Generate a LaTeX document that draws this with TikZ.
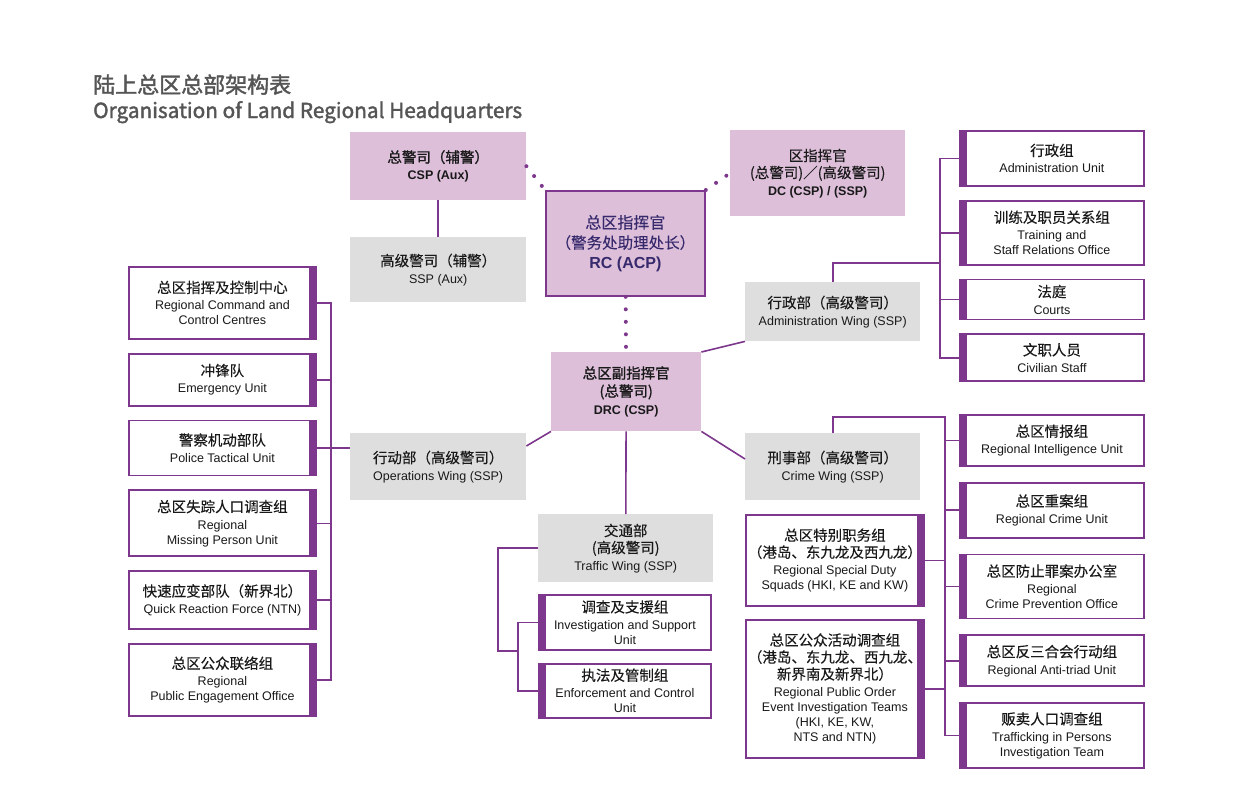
\documentclass[tikz,border=0pt]{standalone}
\usepackage{fontspec}
\setmainfont{Liberation Sans}
\newfontfamily\cjk[FakeBold=0.15]{Noto Sans CJK SC}
\newfontfamily\cjkm[FakeBold=1.2]{Noto Sans CJK SC}
\newfontfamily\cjktitle[FakeBold=1.8]{Noto Sans CJK SC}
\usetikzlibrary{positioning,calc}
\definecolor{hqpurple}{RGB}{125,55,140}
\definecolor{hqpink}{RGB}{221,191,218}
\definecolor{hqgrey}{RGB}{222,222,222}
\definecolor{hqink}{RGB}{55,42,108}
\definecolor{hqtitle}{RGB}{85,85,85}
\newcommand{\zh}[1]{{\cjk\fontsize{14.5}{17}\selectfont #1}}
\newcommand{\zhb}[1]{{\cjkm\fontsize{14.5}{17}\selectfont #1}}

\begin{document}
\begin{tikzpicture}[x=1pt,y=-1pt,node distance=13pt,font=\fontsize{12.5}{15}\selectfont,text=black!90]
  \tikzstyle{every node}=[align=center,inner sep=2pt]
  \tikzstyle{post}=[fill=hqgrey,anchor=north west]
  \tikzstyle{head}=[fill=hqpink,anchor=north west]
  \tikzstyle{unit}=[draw=hqpurple,line width=1.8pt,fill=white,anchor=north west]
  \tikzstyle{barR}=[unit,path picture={\fill[hqpurple] (path picture bounding box.north east) rectangle ([xshift=-7pt]path picture bounding box.south east);}]
  \tikzstyle{barL}=[unit,path picture={\fill[hqpurple] (path picture bounding box.north west) rectangle ([xshift=7pt]path picture bounding box.south west);}]
  \tikzstyle{link}=[draw=hqpurple,line width=1.6pt]
  \tikzstyle{dots}=[draw=hqpurple,line width=4pt,line cap=round,dash pattern=on 0pt off 12.5pt]

  \fill[white] (0,0) rectangle (1240,811);
  \useasboundingbox (0,0) rectangle (1240,811);

  \node[anchor=base west,inner sep=0,text=hqtitle] (ZH) at (93,93) {\cjktitle\fontsize{22}{26}\selectfont 陆上总区总部架构表};
  \node[anchor=base west,inner sep=0,text=hqtitle] (EN) at (93,118) {\cjktitle\fontsize{20.8}{26}\selectfont Organisation of Land Regional Headquarters};

  \node[head,minimum width=176pt,minimum height=68pt] (CSP) at (350,132) {\zhb{总警司（辅警）}\\[2pt] \textbf{CSP (Aux)}};
  \node[post,minimum width=176pt,minimum height=65pt] (SSP) at (350,237) {\zh{高级警司（辅警）}\\[2pt] SSP (Aux)};
  \node[head,draw=hqpurple,line width=1.8pt,minimum width=159pt,minimum height=105pt,text=hqink,font=\fontsize{16}{20}\selectfont] (RC) at (545,190)
    {{\cjk\fontsize{16}{20}\selectfont 总区指挥官}\\ {\cjk\fontsize{15.5}{20}\selectfont （警务处助理处长）}\\ \textbf{RC (ACP)}};
  \node[head,minimum width=175pt,minimum height=86pt] (DC) at (730,130) {\zh{区指挥官}\\[2pt] \zh{(总警司)／(高级警司)}\\[2pt] \textbf{DC (CSP) / (SSP)}};
  \node[head,minimum width=150pt,minimum height=79pt] (DRC) at (551,352) {\zhb{总区副指挥官}\\[3pt] \zhb{(总警司)}\\[3pt] \textbf{DRC (CSP)}};

  \node[post,minimum width=175pt,minimum height=59pt] (AW) at (745,282) {\zh{行政部（高级警司）}\\[2pt] Administration Wing (SSP)};
  \node[post,minimum width=176pt,minimum height=67pt] (OW) at (350,433) {\zh{行动部（高级警司）}\\[2pt] Operations Wing (SSP)};
  \node[post,minimum width=175pt,minimum height=67pt] (CW) at (745,433) {\zh{刑事部（高级警司）}\\[2pt] Crime Wing (SSP)};
  \node[post,minimum width=175pt,minimum height=68pt] (TW) at (538,514) {\zh{交通部}\\[2pt] \zh{(高级警司)}\\[2pt] Traffic Wing (SSP)};

  \node[barR,minimum width=187pt,minimum height=72pt] (L1) at (128,266) {\zh{总区指挥及控制中心}\\[2pt] Regional Command and\\ Control Centres};
  \node[barR,minimum width=187pt,minimum height=52pt,below=of L1] (L2) {\zh{冲锋队}\\[2pt] Emergency Unit};
  \node[barR,minimum width=187pt,minimum height=55pt,below=of L2] (L3) {\zh{警察机动部队}\\[2pt] Police Tactical Unit};
  \node[barR,minimum width=187pt,minimum height=66pt,below=of L3] (L4) {\zh{总区失踪人口调查组}\\[2pt] Regional\\ Missing Person Unit};
  \node[barR,minimum width=187pt,minimum height=58pt,below=of L4] (L5) {\zh{快速应变部队（新界北）}\\[2pt] Quick Reaction Force (NTN)};
  \node[barR,minimum width=187pt,minimum height=72pt,below=of L5] (L6) {\zh{总区公众联络组}\\[2pt] Regional\\ Public Engagement Office};

  \node[barL,minimum width=184pt,minimum height=55pt] (A1) at (959,130) {\zh{行政组}\\[2pt] Administration Unit};
  \node[barL,minimum width=184pt,minimum height=64pt,below=of A1] (A2) {\zh{训练及职员关系组}\\[2pt] Training and\\ Staff Relations Office};
  \node[barL,minimum width=184pt,minimum height=40pt,below=of A2] (A3) {\zh{法庭}\\[2pt] Courts};
  \node[barL,minimum width=184pt,minimum height=47pt,below=of A3] (A4) {\zh{文职人员}\\[2pt] Civilian Staff};

  \node[barL,minimum width=184pt,minimum height=51pt] (C1) at (959,414) {\zh{总区情报组}\\[2pt] Regional Intelligence Unit};
  \node[barL,minimum width=184pt,minimum height=55pt,below=15pt of C1] (C2) {\zh{总区重案组}\\[2pt] Regional Crime Unit};
  \node[barL,minimum width=184pt,minimum height=64pt,below=15pt of C2] (C3) {\zh{总区防止罪案办公室}\\[2pt] Regional\\ Crime Prevention Office};
  \node[barL,minimum width=184pt,minimum height=51pt,below=15pt of C3] (C4) {\zh{总区反三合会行动组}\\[2pt] Regional Anti-triad Unit};
  \node[barL,minimum width=184pt,minimum height=65pt,below=15pt of C4] (C5) {\zh{贩卖人口调查组}\\[2pt] Trafficking in Persons\\ Investigation Team};

  \node[barR,minimum width=173pt,minimum height=91pt] (S1) at (745,514) {\zh{总区特别职务组}\\[2pt] \zh{（港岛、东九龙及西九龙）}\\[2pt] Regional Special Duty\\ Squads (HKI, KE and KW)};
  \node[barR,minimum width=173pt,minimum height=138pt,below=12pt of S1] (S2) {\zh{总区公众活动调查组}\\[2pt] \zh{（港岛、东九龙、西九龙、}\\[2pt] \zh{新界南及新界北）}\\[2pt] Regional Public Order\\ Event Investigation Teams\\ (HKI, KE, KW,\\ NTS and NTN)};

  \node[barL,minimum width=172pt,minimum height=55pt] (T1) at (538,594) {\zh{调查及支援组}\\[2pt] Investigation and Support\\ Unit};
  \node[barL,minimum width=172pt,minimum height=54pt,below=12pt of T1] (T2) {\zh{执法及管制组}\\[2pt] Enforcement and Control\\ Unit};

  \draw[link] (CSP) -- (SSP);
  \draw[dots] (CSP.east) -- (RC.north west);
  \draw[dots] (RC.north east) -- (DC.west);
  \draw[dots] (RC) -- (DRC);
  \draw[link] (DRC.north east) -- (AW.south west);
  \draw[link] (DRC.south west) -- ($(OW.north east)+(0,13)$);
  \draw[link] (DRC.south east) -- ($(CW.north west)+(0,26)$);
  \draw[link] (DRC) -- (TW);

  \coordinate (lbus) at (331,0);
  \draw[link] (L1.east) -- (L1.east -| lbus) -- (L6.east -| lbus) -- (L6.east);
  \foreach \n in {L2,L3,L4,L5} \draw[link] (\n.east) -- (\n.east -| lbus);
  \draw[link] (L3.east -| lbus) -- (L3.east -| OW.west);

  \coordinate (abus) at (940,263);
  \draw[link] (AW.north) |- (abus);
  \draw[link] (A1.west) -- (A1.west -| abus) -- (A4.west -| abus) -- (A4.west);
  \foreach \n in {A2,A3} \draw[link] (\n.west) -- (\n.west -| abus);

  \coordinate (cbus) at (945,417);
  \draw[link] (CW.north) |- (cbus) -- (cbus |- C5.west) -- (C5.west);
  \foreach \n in {C1,C2,C3,C4} \draw[link] (\n.west) -- (\n.west -| cbus);
  \foreach \n in {S1,S2} \draw[link] (\n.east) -- (\n.east -| cbus);

  \coordinate (tout) at (498,651);
  \coordinate (tin) at (518,651);
  \draw[link] (TW.west) -| (tout) -- (tin);
  \draw[link] (T1.west) -- (T1.west -| tin) -- (T2.west -| tin) -- (T2.west);
\end{tikzpicture}
\end{document}
